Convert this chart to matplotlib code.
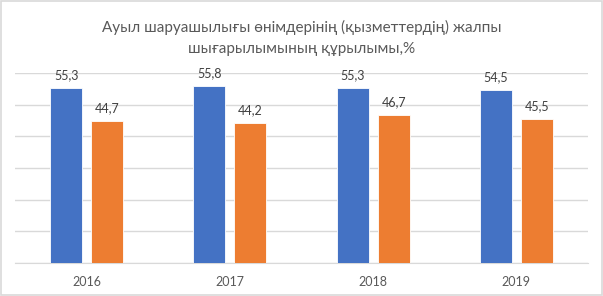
import matplotlib
matplotlib.use('Agg')
import matplotlib.pyplot as plt
import numpy as np

# Данные
years = ['2016', '2017', '2018', '2019']
series_a = [55.3, 55.8, 55.3, 54.5]
series_b = [44.7, 44.2, 46.7, 45.5]
title = 'Ауыл шаруашылығы өнімдерінің (қызметтердің) жалпы\nшығарылымының құрылымы,%'

plt.rcParams['font.family'] = ['Lato', 'DejaVu Sans']

W, H = 603, 296
fig = plt.figure(figsize=(W / 100, H / 100), dpi=100)
ax = fig.add_axes([15 / W, 1 - 263 / H, 573 / W, 190 / H])

x = np.arange(len(years))
bw = 0.224
off = 0.143
b1 = ax.bar(x - off, series_a, bw, color='#4472C4', edgecolor='white', linewidth=0.6, zorder=3)
b2 = ax.bar(x + off, series_b, bw, color='#ED7D31', edgecolor='white', linewidth=0.6, zorder=3)

for bars, vals in ((b1, series_a), (b2, series_b)):
    for r, v in zip(bars, vals):
        ax.text(r.get_x() + r.get_width() / 2, v + 2.2, str(v).replace('.', ','),
                ha='center', va='bottom', fontsize=9, color='#404040')

ax.set_xlim(-0.5, 3.5)
ax.set_ylim(0, 60)
ax.set_yticks(np.arange(0, 61, 10))
ax.yaxis.grid(True, color='#D9D9D9', linewidth=1, zorder=0)
ax.set_yticklabels([])
ax.tick_params(axis='y', length=0)
ax.set_xticks(x)
ax.set_xticklabels(years, fontsize=9, color='#595959')
ax.tick_params(axis='x', length=0, pad=9)
for s in ['top', 'right', 'left']:
    ax.spines[s].set_visible(False)
ax.spines['bottom'].set_color('#D9D9D9')

fig.text(0.5, 1 - 38 / H, title, ha='center', va='center', fontsize=11,
         color='#595959', linespacing=1.6)

# рамка
fig.patches.append(plt.Rectangle((0.001, 0.002), 0.997, 0.995, transform=fig.transFigure,
                                 fill=False, edgecolor='#D9D9D9', linewidth=1.2))

plt.savefig('out.png', dpi=100)
